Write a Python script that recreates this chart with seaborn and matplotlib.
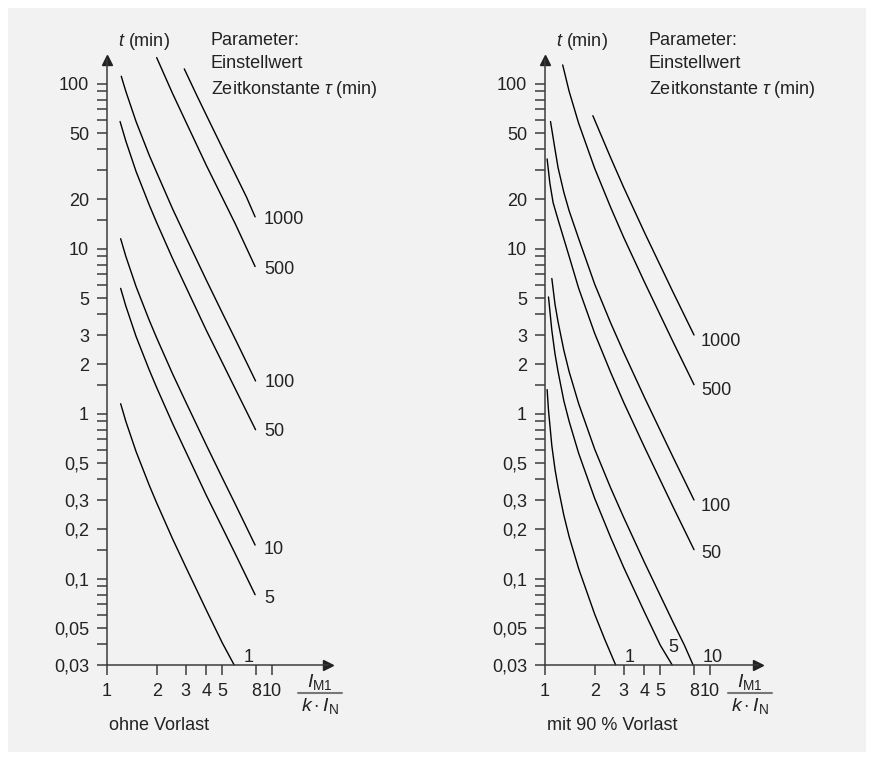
import numpy as np
import pandas as pd
import matplotlib
matplotlib.use('Agg')
import matplotlib.pyplot as plt
import seaborn as sns
from matplotlib.patches import Rectangle
from matplotlib.lines import Line2D
from matplotlib.ticker import FixedLocator, FixedFormatter, NullFormatter, NullLocator

# ---- data ----
x_ticks = [1, 2, 3, 4, 5, 8, 10]
x_ticklabels = ['1', '2', '3', '4', '5', '8', '10']
y_ticks = [0.03, 0.05, 0.1, 0.2, 0.3, 0.5, 1, 2, 3, 5, 10, 20, 50, 100]
y_ticklabels = ['0,03', '0,05', '0,1', '0,2', '0,3', '0,5', '1', '2', '3', '5',
                '10', '20', '50', '100']
y_minor = [0.04, 0.06, 0.07, 0.08, 0.09, 0.15, 0.4, 0.6, 0.7, 0.8, 0.9,
           1.5, 4, 6, 7, 8, 9, 15, 30, 40, 60, 70, 80, 90]

tau_labels = ['1000', '500', '100', '50', '10', '5', '1']

# ohne Vorlast: current ratio I_M1/(k*I_N) and tripping time t (min)
ohne_x = {
    '1000': [2.94, 3.5, 4, 5, 6, 7, 7.9],
    '500': [2.0, 2.5, 3, 4, 5, 6, 7.9],
    '100': [1.22, 1.3, 1.5, 1.8, 2, 2.5, 3, 4, 5, 6, 7.95],
    '50': [1.2, 1.3, 1.5, 1.8, 2, 2.5, 3, 4, 5, 6, 7.95],
    '10': [1.21, 1.3, 1.5, 1.8, 2, 2.5, 3, 4, 5, 6, 7.9],
    '5': [1.21, 1.3, 1.5, 1.8, 2, 2.5, 3, 4, 5, 6, 7.9],
    '1': [1.21, 1.3, 1.5, 1.8, 2, 2.5, 3, 4, 5, 5.9],
}
ohne_t = {
    '1000': [123, 85, 64.5, 40.8, 28.2, 20.6, 15.6],
    '500': [144, 87, 59, 32, 20.4, 14.1, 7.8],
    '100': [111, 90, 59, 37, 29, 17.4, 11.8, 6.45, 4.08, 2.82, 1.58],
    '50': [59, 45, 29.4, 18.5, 14.4, 8.7, 5.9, 3.2, 2.04, 1.41, 0.8],
    '10': [11.5, 9, 5.9, 3.7, 2.88, 1.74, 1.18, 0.645, 0.408, 0.282, 0.16],
    '5': [5.75, 4.5, 2.94, 1.85, 1.44, 0.87, 0.59, 0.32, 0.204, 0.141, 0.08],
    '1': [1.15, 0.9, 0.59, 0.37, 0.288, 0.174, 0.118, 0.0645, 0.0408, 0.03],
}

# mit 90 % Vorlast
mit_x = {
    '1000': [1.95, 2.5, 3, 4, 5, 6, 8],
    '500': [1.28, 1.4, 1.6, 2, 2.5, 3, 4, 5, 6, 8],
    '100': [1.08, 1.15, 1.2, 1.3, 1.4, 1.6, 2, 2.5, 3, 4, 5, 6, 8],
    '50': [1.03, 1.07, 1.12, 1.2, 1.3, 1.4, 1.6, 2, 2.5, 3, 4, 5, 6, 8],
    '10': [1.1, 1.15, 1.2, 1.3, 1.4, 1.6, 2, 2.5, 3, 4, 5, 6, 7, 7.9],
    '5': [1.05, 1.1, 1.15, 1.2, 1.3, 1.4, 1.6, 2, 2.5, 3, 4, 5, 5.9],
    '1': [1.03, 1.05, 1.1, 1.15, 1.2, 1.3, 1.4, 1.6, 2, 2.3, 2.68],
}
mit_t = {
    '1000': [64, 35.6, 23.5, 12.6, 7.9, 5.4, 3.0],
    '500': [130, 90, 57.5, 30.7, 17.8, 11.7, 6.3, 3.95, 2.7, 1.5],
    '100': [59, 40, 31, 22, 17, 11.5, 6.1, 3.55, 2.35, 1.26, 0.79, 0.54, 0.30],
    '50': [35, 25, 19, 15, 11.5, 9, 5.75, 3.07, 1.78, 1.17, 0.63, 0.395, 0.27, 0.15],
    '10': [6.6, 4.6, 3.6, 2.43, 1.8, 1.15, 0.61, 0.355, 0.235, 0.126, 0.079,
           0.054, 0.0395, 0.03],
    '5': [5.1, 3.2, 2.3, 1.8, 1.2, 0.9, 0.575, 0.307, 0.178, 0.117, 0.063,
          0.0395, 0.03],
    '1': [1.4, 1.05, 0.64, 0.46, 0.36, 0.243, 0.18, 0.115, 0.061, 0.043, 0.03],
}

# label offsets (pixels) from the last point of each curve
ohne_off = {'1000': (9, -3), '500': (9, -3), '100': (9, -2), '50': (9, -2),
            '10': (9, -4), '5': (9, -4), '1': (9, 8)}
mit_off = {'1000': (7, -6), '500': (7, -6), '100': (7, -6), '50': (7, -4),
           '10': (10, 8), '5': (-4, 17), '1': (9, 8)}

# ---- layout helpers (pixel -> figure fraction) ----
W, H = 874, 760
DEC = 165.0      # pixels per decade
Y0 = 665         # pixel row of t = 0,03
YTOP = 60


def fx(p):
    return p / W


def fy(p):
    return 1 - p / H


sns.set_style('ticks')
plt.rcParams['font.family'] = ['Liberation Sans', 'DejaVu Sans']
plt.rcParams['mathtext.fontset'] = 'custom'
plt.rcParams['mathtext.rm'] = 'Liberation Sans'
plt.rcParams['mathtext.it'] = 'Liberation Sans:italic'
FS = 13
AX = '#3c3c3c'
TXT = '#222222'

fig = plt.figure(figsize=(W / 100, H / 100), dpi=100, facecolor='white')
fig.patches.append(Rectangle((fx(8), fy(752)), fx(858), (752 - 8) / H,
                             transform=fig.transFigure, facecolor='#f2f2f2',
                             edgecolor='none', zorder=-10))


def make_panel(x0, x1, xs, ts, offs, caption):
    ax = fig.add_axes([fx(x0), fy(Y0), fx(x1 - x0), (Y0 - YTOP) / H])
    ax.patch.set_alpha(0)
    ax.set_xscale('log')
    ax.set_yscale('log')
    ax.set_xlim(1, 10 ** ((x1 - x0) / DEC))
    ax.set_ylim(0.03, 0.03 * 10 ** ((Y0 - YTOP) / DEC))

    rows = []
    for k in tau_labels:
        for a, b in zip(xs[k], ts[k]):
            rows.append({'tau': k, 'x': a, 't': b})
    df = pd.DataFrame(rows)
    sns.lineplot(data=df, x='x', y='t', units='tau', estimator=None, sort=False,
                 color='black', lw=1.0, ax=ax, legend=False)
    for line in ax.lines:
        line.set_clip_on(False)

    for k in tau_labels:
        ax.annotate(k, xy=(xs[k][-1], ts[k][-1]), xytext=offs[k],
                    textcoords='offset pixels', ha='left', va='center',
                    fontsize=FS, color=TXT)

    ax.xaxis.set_major_locator(FixedLocator(x_ticks))
    ax.xaxis.set_major_formatter(FixedFormatter(x_ticklabels))
    ax.xaxis.set_minor_locator(NullLocator())
    ax.yaxis.set_major_locator(FixedLocator(y_ticks))
    ax.yaxis.set_major_formatter(FixedFormatter(y_ticklabels))
    ax.yaxis.set_minor_locator(FixedLocator(y_minor))
    ax.yaxis.set_minor_formatter(NullFormatter())
    ax.tick_params(which='both', direction='out', length=7, width=1.1,
                   color=AX, labelsize=FS, labelcolor=TXT, pad=6)
    ax.set_xlabel('')
    ax.set_ylabel('')
    for s in ['top', 'right']:
        ax.spines[s].set_visible(False)
    for s in ['left', 'bottom']:
        ax.spines[s].set_color(AX)
        ax.spines[s].set_linewidth(1.1)
    ax.plot(1, 0, marker='>', color=TXT, markersize=7,
            transform=ax.transAxes, clip_on=False)
    ax.plot(0, 1, marker='^', color=TXT, markersize=7,
            transform=ax.transAxes, clip_on=False)

    # axis texts
    fig.text(fx(x0 + 11), fy(42), r'$t$ (min)', fontsize=FS, ha='left',
             va='center', color=TXT)
    fig.text(fx(x0 + 104), fy(66), 'Parameter:\nEinstellwert\nZeitkonstante $\\tau$ (min)',
             fontsize=FS, ha='left', va='center', linespacing=1.45, color=TXT)
    fig.text(fx(x0 + 2), fy(725), caption, fontsize=FS, ha='left', va='center',
             color=TXT)
    cx = x1 - 8
    fig.text(fx(cx), fy(682), r'$I_{\mathrm{M1}}$', fontsize=FS + 1, ha='center',
             va='center', color=TXT)
    fig.add_artist(Line2D([fx(cx - 22), fx(cx + 22)], [fy(693), fy(693)],
                          color='#777777', lw=1.5, transform=fig.transFigure))
    fig.text(fx(cx), fy(706), r'$k\cdot I_{\mathrm{N}}$', fontsize=FS + 1,
             ha='center', va='center', color=TXT)
    return ax


make_panel(107, 328, ohne_x, ohne_t, ohne_off, 'ohne Vorlast')
make_panel(545, 758, mit_x, mit_t, mit_off, 'mit 90 % Vorlast')

fig.savefig('out.png', dpi=100, facecolor='white')
